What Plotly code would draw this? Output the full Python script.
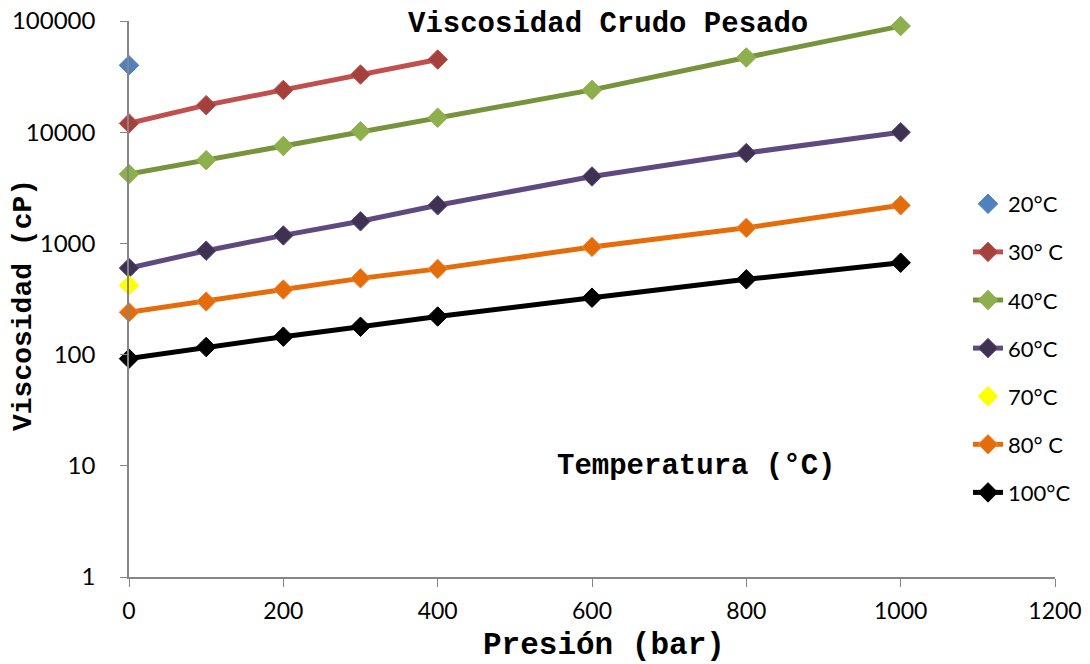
import plotly.graph_objects as go

# Pressure points (bar)
pres_short = [0, 100, 200, 300, 400]
pres_long = [0, 100, 200, 300, 400, 600, 800, 1000]

# Viscosity (cP) per temperature
visc_20 = [40000]
visc_30 = [12000, 17500, 24000, 33000, 45000]
visc_40 = [4200, 5600, 7500, 10200, 13500, 24000, 47000, 90000]
visc_60 = [600, 860, 1180, 1580, 2200, 4000, 6500, 10000]
visc_70 = [420]
visc_80 = [240, 300, 385, 485, 590, 930, 1380, 2200]
visc_100 = [92, 117, 145, 178, 220, 325, 475, 670]

x_ticks = [0, 200, 400, 600, 800, 1000, 1200]
y_ticks = [1, 10, 100, 1000, 10000, 100000]

MONO = "Liberation Mono, Courier New, monospace"
SANS = "Lato, Liberation Sans, sans-serif"

# (legend name, x, y, line colour, marker fill, marker outline)
series = [
    ("20°C", [0], visc_20, None, "#4F81BD", "#4F81BD"),
    ("30° C", pres_short, visc_30, "#C0504D", "#A5403D", "#B8504B"),
    ("40°C", pres_long, visc_40, "#77933C", "#8DB04D", "#8DB04D"),
    ("60°C", pres_long, visc_60, "#5F4A80", "#3F3151", "#5F4A80"),
    ("70°C", [0], visc_70, None, "#FFFF00", "#FFFF00"),
    ("80° C", pres_long, visc_80, "#E46C0A", "#E46C0A", "#F08A3A"),
    ("100°C", pres_long, visc_100, "#000000", "#000000", "#000000"),
]

fig = go.Figure()
for i, (name, xs, ys, lcol, mcol, mline) in enumerate(series):
    fig.add_trace(go.Scatter(
        x=xs, y=ys, name=name,
        mode="lines+markers" if lcol else "markers",
        line=dict(color=lcol or mcol, width=5),
        marker=dict(symbol="diamond", size=15, color=mcol,
                    line=dict(color=mline, width=1)),
        legendgroup=f"g{i}",
        cliponaxis=False,
    ))

L, R, T, B = 129, 1055, 21, 577
PW, PH = R - L, B - T


def px(xp):
    return (xp - L) / PW


def py(yp):
    return (B - yp) / PH


fig.add_annotation(text="<b>Viscosidad Crudo Pesado</b>", xref="paper", yref="paper",
                   x=px(608), y=py(25), xanchor="center", yanchor="middle",
                   showarrow=False, font=dict(family=MONO, size=29, color="#000000"))
fig.add_annotation(text="<b>Temperatura (°C)</b>", xref="paper", yref="paper",
                   x=px(696), y=py(466), xanchor="center", yanchor="middle",
                   showarrow=False, font=dict(family=MONO, size=29, color="#000000"))
fig.add_annotation(text="<b>Presión (bar)</b>", xref="paper", yref="paper",
                   x=px(604), y=py(646), xanchor="center", yanchor="middle",
                   showarrow=False, font=dict(family=MONO, size=31, color="#000000"))
fig.add_annotation(text="<b>Viscosidad (cP)</b>", xref="paper", yref="paper",
                   x=px(24), y=py(305), xanchor="center", yanchor="middle",
                   textangle=-90, showarrow=False,
                   font=dict(family=MONO, size=28, color="#000000"))

fig.update_layout(
    width=1090, height=664,
    margin=dict(l=L, r=1090 - R, t=T, b=664 - B, autoexpand=False),
    paper_bgcolor="white", plot_bgcolor="white",
    showlegend=True,
    legend=dict(x=px(968), y=py(183), xanchor="left", yanchor="top",
                font=dict(family=SANS, size=22, color="#000000"),
                traceorder="grouped", tracegroupgap=16.5,
                bgcolor="rgba(0,0,0,0)", borderwidth=0),
    xaxis=dict(range=[0, 1200], tickvals=x_ticks, ticktext=[str(v) for v in x_ticks],
               showgrid=False, zeroline=False, showline=True, linecolor="#868686", linewidth=1.5,
               ticks="outside", ticklen=8, tickcolor="#868686", ticklabelstandoff=5,
               tickfont=dict(family=SANS, size=23, color="#000000")),
    yaxis=dict(type="log", range=[0, 5], tickvals=y_ticks, ticktext=[str(v) for v in y_ticks],
               showgrid=False, zeroline=False, showline=True, linecolor="#868686", linewidth=1.5,
               ticks="outside", ticklen=7, tickcolor="#868686", ticklabelstandoff=20,
               tickfont=dict(family=SANS, size=24, color="#000000")),
)

fig.write_html("out.html")
